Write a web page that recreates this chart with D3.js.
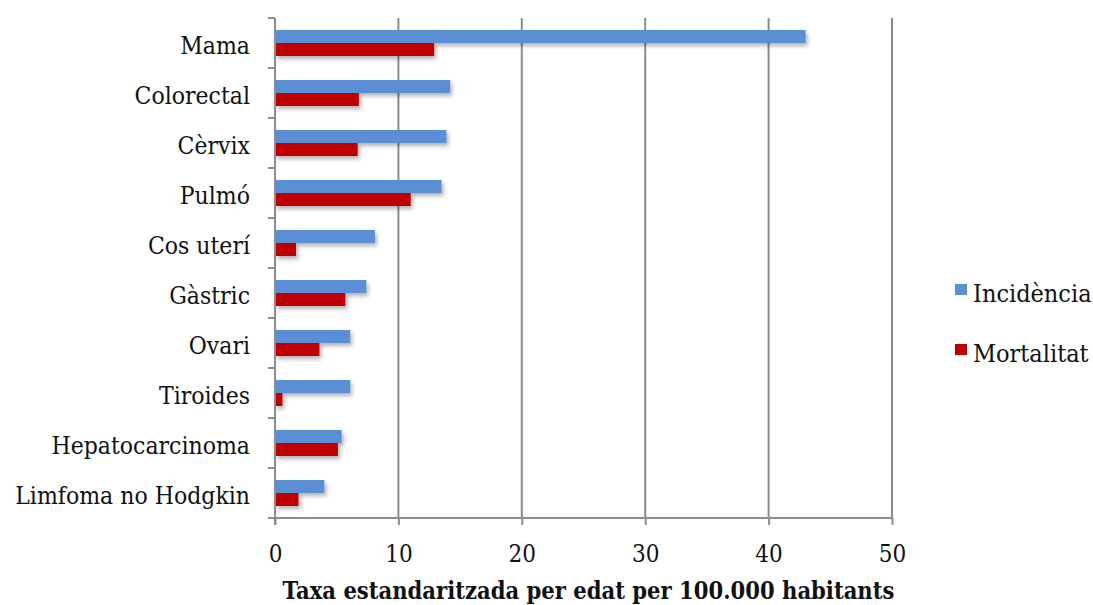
<!DOCTYPE html>
<html>
<head>
<meta charset="utf-8">
<script src="https://cdn.jsdelivr.net/npm/d3@7"></script>
<style>
  html, body { margin: 0; padding: 0; background: #fff; }
  svg { display: block; }
  text { font-family: "DejaVu Serif Condensed", "DejaVu Serif", serif; font-stretch: condensed; fill: #111; }
</style>
</head>
<body>
<svg id="chart" width="1093" height="605"></svg>
<script>
// Tumour sites, top to bottom
const categories = ["Mama", "Colorectal", "Cèrvix", "Pulmó", "Cos uterí", "Gàstric",
  "Ovari", "Tiroides", "Hepatocarcinoma", "Limfoma no Hodgkin"];
// Age-standardised rates per 100,000
const incidencia = [43.0, 14.2, 13.9, 13.5, 8.1, 7.4, 6.1, 6.1, 5.4, 4.0];
const mortalitat = [12.9, 6.8, 6.7, 11.0, 1.7, 5.7, 3.6, 0.6, 5.1, 1.9];
const seriesNames = ["Incidència", "Mortalitat"];
const seriesColors = ["#5a8fd6", "#c00000"];
const xTicks = [0, 10, 20, 30, 40, 50];
const xTitle = "Taxa estandaritzada per edat per 100.000 habitants";

const svg = d3.select("#chart");
const plotL = 275, plotR = 892, plotT = 18, plotB = 518;

const x = d3.scaleLinear().domain([0, 50]).range([plotL, plotR]);
const y = d3.scaleBand().domain(categories).range([plotT, plotB]).paddingInner(0).paddingOuter(0);
const sub = d3.scaleBand().domain(seriesNames).range([y.bandwidth() / 2 - 13, y.bandwidth() / 2 + 13]);

// soft drop shadow under bars
const defs = svg.append("defs");
const f = defs.append("filter").attr("id", "shadow").attr("x", "-5%").attr("y", "-30%").attr("width", "115%").attr("height", "180%");
f.append("feDropShadow").attr("dx", 2).attr("dy", 3).attr("stdDeviation", 2)
  .attr("flood-color", "#000").attr("flood-opacity", 0.3);

// vertical grid lines
svg.append("g").selectAll("line").data(xTicks.slice(1)).join("line")
  .attr("x1", d => x(d)).attr("x2", d => x(d))
  .attr("y1", plotT).attr("y2", plotB)
  .attr("stroke", "#8c8c8c").attr("stroke-width", 2);

// bars
const rows = categories.map((c, i) => ({ c, vals: [incidencia[i], mortalitat[i]] }));
const g = svg.append("g").attr("filter", "url(#shadow)");
rows.forEach(r => {
  r.vals.forEach((v, j) => {
    g.append("rect")
      .attr("x", x(0))
      .attr("y", y(r.c) + sub(seriesNames[j]))
      .attr("width", x(v) - x(0))
      .attr("height", sub.bandwidth())
      .attr("fill", seriesColors[j]);
  });
});

// y axis with boundary ticks
const yAxisG = svg.append("g");
yAxisG.append("line").attr("x1", plotL).attr("x2", plotL).attr("y1", plotT).attr("y2", plotB + 7)
  .attr("stroke", "#8c8c8c").attr("stroke-width", 2);
const bounds = categories.map(c => y(c));
yAxisG.selectAll("line.tk").data(bounds).join("line").attr("class", "tk")
  .attr("x1", plotL - 7).attr("x2", plotL).attr("y1", d => d).attr("y2", d => d)
  .attr("stroke", "#8c8c8c").attr("stroke-width", 2);
yAxisG.selectAll("text").data(categories).join("text")
  .attr("x", 250).attr("y", d => y(d) + y.bandwidth() / 2 + 10.5)
  .attr("text-anchor", "end")
  .attr("font-size", 24.5).text(d => d);

// x axis
const xAxis = d3.axisBottom(x).tickValues(xTicks).tickSize(7).tickPadding(12).tickFormat(d3.format("d"));
const xg = svg.append("g").attr("transform", `translate(0,${plotB})`).call(xAxis);
xg.select(".domain").attr("stroke", "#8c8c8c").attr("stroke-width", 2).attr("d", `M${plotL - 7},0H${plotR}`);
xg.selectAll(".tick line").attr("stroke", "#8c8c8c").attr("stroke-width", 2);
xg.selectAll(".tick text").attr("font-size", 24).attr("font-family", null).attr("fill", "#111")
  .attr("dy", null).attr("y", 44);

svg.append("text").attr("x", (plotL + plotR) / 2 + 5).attr("y", 599)
  .attr("text-anchor", "middle").attr("font-weight", "bold").attr("font-size", 23.5)
  .text(xTitle);

// legend
const lg = svg.append("g");
seriesNames.forEach((n, i) => {
  const ly = 284 + i * 60;
  lg.append("rect").attr("x", 955).attr("y", ly).attr("width", 12).attr("height", 11).attr("fill", seriesColors[i]);
  lg.append("text").attr("x", 973).attr("y", ly + 18)
    .attr("font-size", 25).text(n);
});
</script>
</body>
</html>
